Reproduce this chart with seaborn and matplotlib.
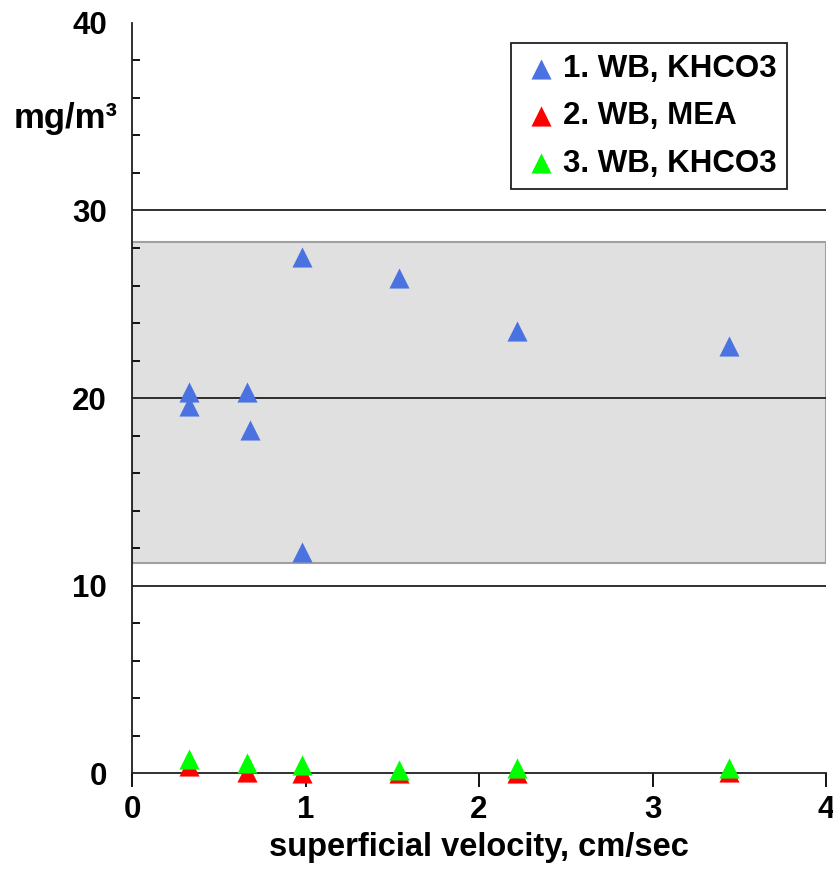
import seaborn as sns
import matplotlib.pyplot as plt
import pandas as pd
import numpy as np

# datos
vel_1 = [0.33, 0.33, 0.66, 0.68, 0.98, 0.98, 1.54, 2.22, 3.44]
conc_1 = [20.3, 19.6, 20.3, 18.3, 27.5, 11.8, 26.4, 23.6, 22.8]
vel_2 = [0.33, 0.66, 0.98, 1.54, 2.22, 3.44]
conc_2 = [0.4, 0.05, 0.0, 0.0, 0.0, 0.05]
vel_3 = [0.33, 0.66, 0.98, 1.54, 2.22, 3.44]
conc_3 = [0.75, 0.55, 0.45, 0.15, 0.25, 0.25]
series = ['1. WB, KHCO3', '2. WB, MEA', '3. WB, KHCO3']
colores = ['#4a72e0', '#ff0000', '#00ff00']
banda = (11.2, 28.3)
y_ticks = [0, 10, 20, 30, 40]
x_ticks = [0, 1, 2, 3, 4]

df = pd.concat([
    pd.DataFrame({'vel': vel_1, 'conc': conc_1, 'serie': series[0]}),
    pd.DataFrame({'vel': vel_2, 'conc': conc_2, 'serie': series[1]}),
    pd.DataFrame({'vel': vel_3, 'conc': conc_3, 'serie': series[2]}),
], ignore_index=True)

sns.set_style('white')
plt.rcParams['font.family'] = ['Liberation Sans', 'DejaVu Sans']
plt.rcParams['font.weight'] = 'bold'
plt.rcParams['text.color'] = 'black'
plt.rcParams['axes.labelcolor'] = 'black'
plt.rcParams['xtick.color'] = 'black'
plt.rcParams['ytick.color'] = 'black'

fig = plt.figure(figsize=(8.33, 8.91), dpi=100)
ax = fig.add_axes([0.1585, 0.1324, 0.8331, 0.8418])

# banda gris
ax.axhspan(banda[0], banda[1], facecolor='#e0e0e0', edgecolor='#a0a0a0', linewidth=1.5, zorder=0.5)
for g in [10, 20, 30]:
    ax.axhline(g, color='#202020', linewidth=1.3, zorder=1)

for nombre, color in zip(series, colores):
    sns.scatterplot(data=df[df['serie'] == nombre], x='vel', y='conc', color=color,
                    marker='^', s=210, linewidth=0, label=nombre, ax=ax, zorder=3, clip_on=False)

ax.set_xlim(0, 4)
ax.set_ylim(0, 40)
ax.set_xticks(x_ticks)
ax.set_yticks(y_ticks)
ax.set_yticks(np.arange(0, 41, 2), minor=True)
ax.tick_params(axis='y', which='major', direction='inout', length=16, width=1.3, labelsize=22.5, pad=10)
ax.tick_params(axis='y', which='minor', direction='in', length=6, width=1.3, left=True)
ax.tick_params(axis='x', which='major', direction='out', length=10, width=1.3, labelsize=22.5, pad=6, bottom=True)
for lab in ax.get_xticklabels() + ax.get_yticklabels():
    lab.set_fontweight('bold')

sns.despine(ax=ax, top=True, right=True)
for s in ['left', 'bottom']:
    ax.spines[s].set_color('#202020')
    ax.spines[s].set_linewidth(1.3)

ax.set_xlabel('superficial velocity, cm/sec', fontsize=23.5, fontweight='bold', labelpad=5, color='black')
ax.set_ylabel('')
fig.text(0.079, 0.867, 'mg/m³', fontsize=25, fontweight='bold', ha='center', va='center')

leg = ax.legend(loc='upper right', bbox_to_anchor=(0.944, 0.973), borderaxespad=0, fontsize=22.5,
                frameon=True, fancybox=False, edgecolor='#202020', framealpha=1, handletextpad=0.1,
                labelspacing=0.55, borderpad=0.35, handlelength=1.2)
leg.get_frame().set_linewidth(1.3)
for t in leg.get_texts():
    t.set_fontweight('bold')

fig.savefig('out.png', dpi=100)
